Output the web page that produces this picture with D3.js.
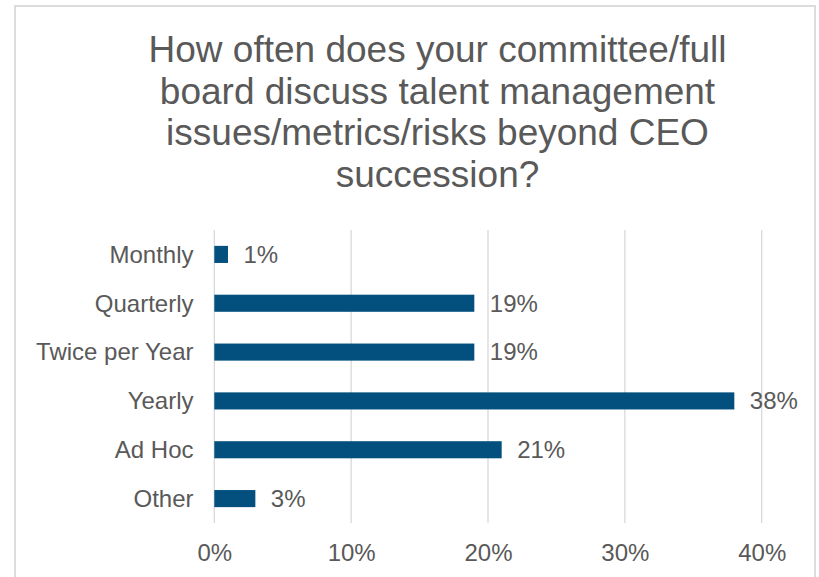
<!DOCTYPE html>
<html>
<head>
<meta charset="utf-8">
<script src="https://cdn.jsdelivr.net/npm/d3@7"></script>
<style>
  html, body { margin: 0; padding: 0; background: #fff; }
  svg { display: block; }
  text { font-family: "Liberation Sans", Arial, sans-serif; fill: #595959; }
</style>
</head>
<body>
<svg id="chart" width="819" height="577"></svg>
<script>
const titleLines = [
  "How often does your committee/full",
  "board discuss talent management",
  "issues/metrics/risks beyond CEO",
  "succession?"
];
const categories = ["Monthly", "Quarterly", "Twice per Year", "Yearly", "Ad Hoc", "Other"];
const values = [1, 19, 19, 38, 21, 3];
const tickValues = [0, 10, 20, 30, 40];

const svg = d3.select("#chart");

// chart frame
svg.append("rect")
  .attr("x", 15).attr("y", 6)
  .attr("width", 800).attr("height", 590)
  .attr("fill", "none")
  .attr("stroke", "#d9d9d9")
  .attr("stroke-width", 1.8);

// title
const title = svg.append("text")
  .attr("text-anchor", "middle")
  .attr("font-size", 37);
titleLines.forEach((line, i) => {
  title.append("tspan")
    .attr("x", 437.5)
    .attr("y", 62 + i * 41.7)
    .text(line);
});

const plot = { left: 214.3, right: 761.7, top: 230, bottom: 523 };

const x = d3.scaleLinear().domain([0, 40]).range([plot.left, plot.right]);
const y = d3.scaleBand().domain(categories).range([plot.top, plot.bottom]).paddingInner(0.65).paddingOuter(0.325);

// gridlines
svg.append("g")
  .selectAll("line")
  .data(tickValues)
  .join("line")
  .attr("x1", d => x(d)).attr("x2", d => x(d))
  .attr("y1", plot.top).attr("y2", plot.bottom)
  .attr("stroke", "#d9d9d9")
  .attr("stroke-width", 1.3);

// x axis labels
const xAxis = d3.axisBottom(x).tickValues(tickValues).tickFormat(d => d + "%").tickSize(0).tickPadding(0);
const gx = svg.append("g")
  .attr("transform", `translate(0, ${plot.bottom})`)
  .call(xAxis);
gx.select(".domain").remove();
gx.selectAll("text")
  .attr("font-size", 24)
  .attr("font-family", "Liberation Sans, Arial, sans-serif")
  .attr("fill", "#595959")
  .attr("dy", null)
  .attr("y", 38);

// y axis labels
const yAxis = d3.axisLeft(y).tickSize(0).tickPadding(0);
const gy = svg.append("g")
  .attr("transform", `translate(193.5, 0)`)
  .call(yAxis);
gy.select(".domain").remove();
gy.selectAll("text")
  .attr("font-size", 24)
  .attr("font-family", "Liberation Sans, Arial, sans-serif")
  .attr("fill", "#595959")
  .attr("x", 0)
  .attr("dy", "0.35em");

// bars
const data = categories.map((c, i) => ({ c, v: values[i] }));
svg.append("g")
  .selectAll("rect")
  .data(data)
  .join("rect")
  .attr("x", x(0))
  .attr("y", d => y(d.c))
  .attr("width", d => x(d.v) - x(0))
  .attr("height", y.bandwidth())
  .attr("fill", "#03507f");

// value labels
svg.append("g")
  .selectAll("text")
  .data(data)
  .join("text")
  .attr("x", d => x(d.v) + 15.5)
  .attr("y", d => y(d.c) + y.bandwidth() / 2)
  .attr("dy", "0.35em")
  .attr("font-size", 24)
  .text(d => d.v + "%");
</script>
</body>
</html>
